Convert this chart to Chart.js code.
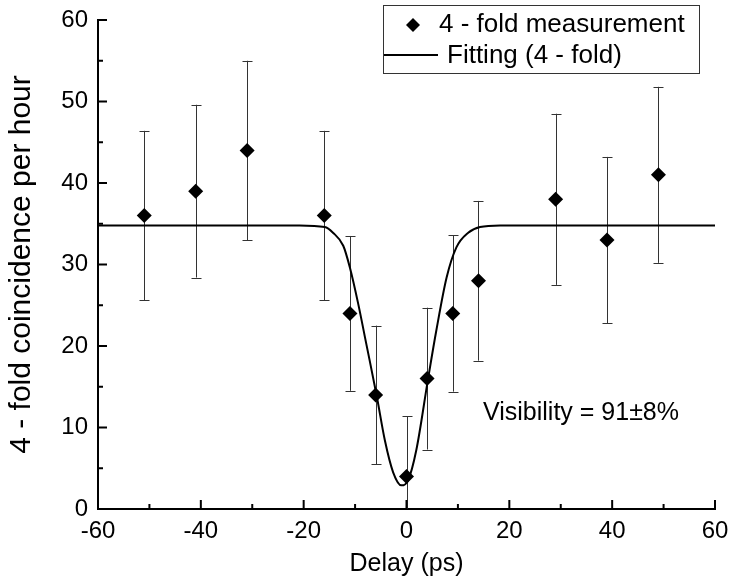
<!DOCTYPE html>
<html>
<head>
<meta charset="utf-8">
<script src="https://cdn.jsdelivr.net/npm/chart.js@4.4.1/dist/chart.umd.min.js"></script>
<style>
  html, body { margin: 0; padding: 0; background: #fff; }
  #wrap { width: 730px; height: 578px; position: relative; }
</style>
</head>
<body>
<div id="wrap"><canvas id="hom"></canvas></div>
<script>
// measured 4-fold coincidences
var delays = [-51, -41, -31, -16, -11, -6, 0, 4, 9, 14, 29, 39, 49];
var counts = [36, 39, 44, 36, 24, 14, 4, 16, 24, 28, 38, 33, 41];
var errors = [10.4, 10.6, 11.0, 10.4, 9.5, 8.5, 7.4, 8.7, 9.6, 9.8, 10.5, 10.2, 10.8];

// fitted dip
var fitX = [-60, -20.8, -15.9, -14.3, -12.3, -11.0, -9.4, -7.8, -5.8, -4.2, -2.6, -1.0, 0.3, 1.9, 4.2, 5.8, 7.8, 9.7, 12.0, 14.3, 18.2, 60];
var fitY = [34.8, 34.8, 34.6, 33.9, 32.3, 29.6, 25.2, 20.2, 13.9, 8.4, 4.5, 2.9, 3.5, 7.2, 16.0, 21.9, 28.4, 32.1, 33.9, 34.6, 34.8, 34.8];

var xTicks = [-60, -40, -20, 0, 20, 40, 60];
var xMinor = [-50, -30, -10, 10, 30, 50];
var yTicks = [0, 10, 20, 30, 40, 50, 60];
var yMinor = [5, 15, 25, 35, 45, 55];

var visibilityText = "Visibility = 91\u00b18%";

Chart.defaults.font.family = "'Liberation Sans', Arial, sans-serif";
Chart.defaults.color = "#000";

var measured = delays.map(function (d, i) { return { x: d, y: counts[i] }; });
var fitted = fitX.map(function (d, i) { return { x: d, y: fitY[i] }; });

// error bars, drawn under the markers
var errorBars = {
  id: "errorBars",
  beforeDatasetsDraw: function (chart) {
    var c = chart.ctx, xs = chart.scales.x, ys = chart.scales.y, a = chart.chartArea;
    c.save();
    c.strokeStyle = "#333";
    c.lineWidth = 1;
    delays.forEach(function (d, i) {
      var px = Math.round(xs.getPixelForValue(d)) + 0.5;
      var top = ys.getPixelForValue(counts[i] + errors[i]);
      var bot = ys.getPixelForValue(counts[i] - errors[i]);
      var clipped = bot > a.bottom;
      bot = Math.min(bot, a.bottom);
      c.beginPath();
      c.moveTo(px, top);
      c.lineTo(px, bot);
      c.moveTo(px - 5, Math.round(top) + 0.5);
      c.lineTo(px + 5, Math.round(top) + 0.5);
      if (!clipped) {
        c.moveTo(px - 5, Math.round(bot) + 0.5);
        c.lineTo(px + 5, Math.round(bot) + 0.5);
      }
      c.stroke();
    });
    c.restore();
  }
};

// inward ticks, legend box and annotation
var extras = {
  id: "extras",
  afterDraw: function (chart) {
    var c = chart.ctx, xs = chart.scales.x, ys = chart.scales.y, a = chart.chartArea;
    c.save();
    c.strokeStyle = "#000";
    c.lineWidth = 2;
    c.beginPath();
    xTicks.forEach(function (v) { var p = xs.getPixelForValue(v); c.moveTo(p, a.bottom); c.lineTo(p, a.bottom - 9); });
    xMinor.forEach(function (v) { var p = xs.getPixelForValue(v); c.moveTo(p, a.bottom); c.lineTo(p, a.bottom - 5); });
    yTicks.forEach(function (v) { var p = ys.getPixelForValue(v); c.moveTo(a.left, p); c.lineTo(a.left + 9, p); });
    yMinor.forEach(function (v) { var p = ys.getPixelForValue(v); c.moveTo(a.left, p); c.lineTo(a.left + 5, p); });
    c.stroke();

    // legend
    c.lineWidth = 1;
    c.strokeStyle = "#333";
    c.strokeRect(383.5, 5.5, 316, 68);
    c.fillStyle = "#000";
    c.beginPath();
    c.moveTo(413, 18); c.lineTo(420, 25); c.lineTo(413, 32); c.lineTo(406, 25);
    c.closePath();
    c.fill();
    c.lineWidth = 2;
    c.strokeStyle = "#000";
    c.beginPath();
    c.moveTo(384, 55); c.lineTo(438, 55);
    c.stroke();
    c.font = "26px 'Liberation Sans', Arial, sans-serif";
    c.textBaseline = "middle";
    c.textAlign = "left";
    c.fillText(chart.data.datasets[0].label, 439, 25);
    c.fillText(chart.data.datasets[1].label, 447, 56);

    c.font = "25px 'Liberation Sans', Arial, sans-serif";
    c.fillText(visibilityText, 483, 413);
    c.restore();
  }
};

var ctx = document.getElementById("hom");

var homChart = new Chart(ctx, {
  type: "scatter",
  data: {
    datasets: [
      {
        label: "4 - fold measurement",
        data: measured,
        pointStyle: "rectRot",
        pointRadius: 7.5,
        pointHoverRadius: 7.5,
        backgroundColor: "#000",
        borderColor: "#000",
        borderWidth: 0,
        order: 1,
      },
      {
        label: "Fitting (4 - fold)",
        type: "line",
        data: fitted,
        showLine: true,
        pointRadius: 0,
        borderColor: "#000",
        borderWidth: 2,
        fill: false,
        cubicInterpolationMode: "monotone",
        order: 2,
      },
    ],
  },
  options: {
    responsive: true,
    maintainAspectRatio: false,
    animation: false,
    layout: { padding: { top: 20, right: 15, left: 0, bottom: 0 } },
    plugins: {
      legend: { display: false },
      tooltip: { enabled: false },
    },
    scales: {
      x: {
        type: "linear",
        min: -60,
        max: 60,
        afterBuildTicks: function (s) { s.ticks = xTicks.map(function (v) { return { value: v }; }); },
        afterFit: function (s) { s.height = 69; s.paddingLeft = 0; s.paddingRight = 0; },
        ticks: { font: { size: 24 }, color: "#000", padding: 8, maxRotation: 0 },
        grid: { display: false, drawTicks: false },
        border: { display: true, color: "#000", width: 2 },
        title: {
          display: true,
          text: "Delay (ps)",
          font: { size: 25, lineHeight: 1 },
          color: "#000",
          padding: { top: 0, bottom: 1 },
        },
      },
      y: {
        min: 0,
        max: 60,
        afterBuildTicks: function (s) { s.ticks = yTicks.map(function (v) { return { value: v }; }); },
        afterFit: function (s) { s.width = 98; s.paddingTop = 0; s.paddingBottom = 0; },
        ticks: { font: { size: 24 }, color: "#000", padding: 10 },
        grid: { display: false, drawTicks: false },
        border: { display: true, color: "#000", width: 2 },
        title: {
          display: true,
          text: "4 - fold coincidence per hour",
          font: { size: 30, lineHeight: 1 },
          color: "#000",
          padding: { top: 7, bottom: 0 },
        },
      },
    },
  },
  plugins: [errorBars, extras],
});
</script>
</body>
</html>
